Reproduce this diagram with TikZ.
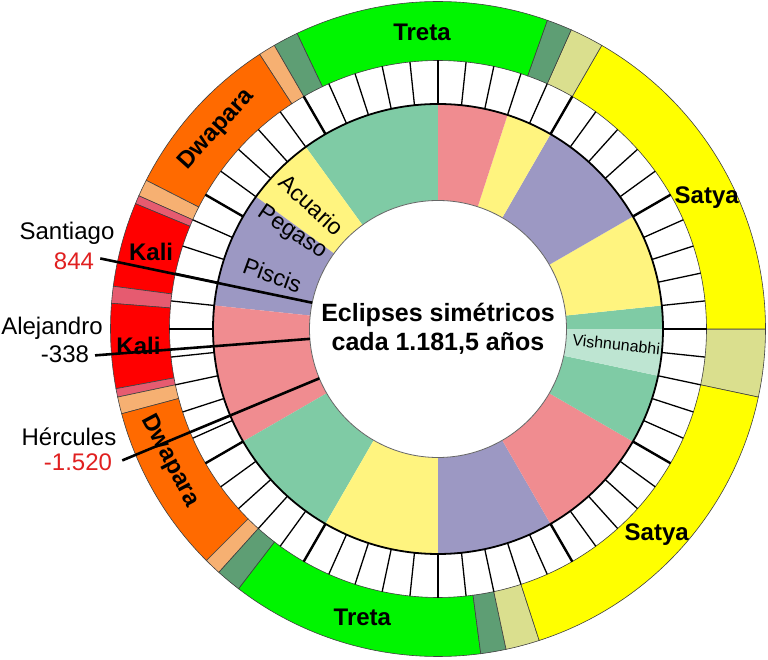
\documentclass[tikz,border=0pt]{standalone}
\usepackage{fontspec}
\setmainfont{Liberation Sans}
\definecolor{cSatya}{HTML}{FFFF00}
\definecolor{cSatS}{HTML}{DADF8E}
\definecolor{cTretaS}{HTML}{5E9E74}
\definecolor{cTreta}{HTML}{00F500}
\definecolor{cDwaS}{HTML}{F6B072}
\definecolor{cDwa}{HTML}{FF6A00}
\definecolor{cKaliS}{HTML}{E65B70}
\definecolor{cKali}{HTML}{FF0000}
\definecolor{zGreen}{HTML}{7FCBA5}
\definecolor{zPink}{HTML}{F08C90}
\definecolor{zYellow}{HTML}{FFF47F}
\definecolor{zPurple}{HTML}{9C98C3}
\definecolor{zLight}{HTML}{BEE5D2}
\definecolor{numRed}{HTML}{E02020}
\newcommand{\annsec}[5]{%
  \path[#1] (#2:#4pt) arc[start angle=#2, end angle=#3, radius=#4pt] -- (#3:#5pt) arc[start angle=#3, end angle=#2, radius=#5pt] -- cycle;}
\begin{document}
\begin{tikzpicture}[x=1pt,y=1pt,
  yuga/.style={fill=#1, draw=black!75, line width=0.6pt},
  zod/.style={fill=#1},
  smalltick/.style={draw=black, line width=1.3pt},
  bigtick/.style={draw=black, line width=2.4pt},
  marker/.style={draw=black, line width=2.6pt},
  yugalbl/.style={font=\fontsize{24}{28}\selectfont\bfseries, inner sep=0pt},
  zodlbl/.style={font=\fontsize{23}{27}\selectfont, inner sep=0pt},
  namelbl/.style={font=\fontsize{24}{28}\selectfont, inner sep=0pt},
  centerlbl/.style={font=\fontsize{25}{30}\selectfont\bfseries, inner sep=0pt}]
\useasboundingbox (-438,-331) rectangle (330,329);
% ---- yuga ring ----
\annsec{yuga=cSatS}{-12}{0}{268.5}{327.5}
\annsec{yuga=cSatya}{0}{60}{268.5}{327.5}
\annsec{yuga=cSatS}{60}{66}{268.5}{327.5}
\annsec{yuga=cTretaS}{66}{70.5}{268.5}{327.5}
\annsec{yuga=cTreta}{70.5}{115.5}{268.5}{327.5}
\annsec{yuga=cTretaS}{115.5}{120}{268.5}{327.5}
\annsec{yuga=cDwaS}{120}{123}{268.5}{327.5}
\annsec{yuga=cDwa}{123}{153}{268.5}{327.5}
\annsec{yuga=cDwaS}{153}{156}{268.5}{327.5}
\annsec{yuga=cKaliS}{156}{157.5}{268.5}{327.5}
\annsec{yuga=cKali}{157.5}{172.5}{268.5}{327.5}
\annsec{yuga=cKaliS}{172.5}{175.5}{268.5}{327.5}
\annsec{yuga=cKali}{175.5}{190.5}{268.5}{327.5}
\annsec{yuga=cKaliS}{190.5}{192}{268.5}{327.5}
\annsec{yuga=cDwaS}{192}{195}{268.5}{327.5}
\annsec{yuga=cDwa}{195}{225}{268.5}{327.5}
\annsec{yuga=cDwaS}{225}{228}{268.5}{327.5}
\annsec{yuga=cTretaS}{228}{232.5}{268.5}{327.5}
\annsec{yuga=cTreta}{232.5}{277.5}{268.5}{327.5}
\annsec{yuga=cTretaS}{277.5}{282}{268.5}{327.5}
\annsec{yuga=cSatS}{282}{288}{268.5}{327.5}
\annsec{yuga=cSatya}{288}{348}{268.5}{327.5}
% ---- zodiac ring ----
\annsec{zod=zGreen}{90}{126}{128.5}{225}
\annsec{zod=zYellow}{126}{144}{128.5}{225}
\annsec{zod=zPurple}{144}{174}{128.5}{225}
\annsec{zod=zPink}{174}{210}{128.5}{225}
\annsec{zod=zGreen}{210}{240}{128.5}{225}
\annsec{zod=zYellow}{240}{270}{128.5}{225}
\annsec{zod=zPurple}{270}{300}{128.5}{225}
\annsec{zod=zPink}{300}{330}{128.5}{225}
\annsec{zod=zGreen}{330}{348}{128.5}{225}
\annsec{zod=zLight}{348}{360}{128.5}{225}
\annsec{zod=zGreen}{0}{6}{128.5}{225}
\annsec{zod=zYellow}{6}{30}{128.5}{225}
\annsec{zod=zPurple}{30}{60}{128.5}{225}
\annsec{zod=zYellow}{60}{72}{128.5}{225}
\annsec{zod=zPink}{72}{90}{128.5}{225}
\draw[black!60, line width=0.8pt, fill=white] (0,0) circle[radius=128.5pt];
\draw[black, line width=1.8pt] (0,0) circle[radius=225pt];
% ---- ticks ----
\foreach \a in {0,6,...,354} {\path[smalltick] (\a:225pt) -- (\a:268.5pt);}
\foreach \a in {0,30,...,330} {\path[bigtick] (\a:225pt) -- (\a:268.5pt);}
% ---- yuga labels ----
\node (tretaT) [yugalbl] at (93.1:297) {Treta};
\node (tretaB) [yugalbl] at (255.3:298) {Treta};
\node (satyaT) [yugalbl] at (26:299) {Satya};
\node (satyaB) [yugalbl] at (-43.2:300) {Satya};
\node (kaliU) [yugalbl] at (165:297) {Kali};
\node (kaliL) [yugalbl] at (183.2:300) {Kali};
\node (dwaU) [yugalbl, rotate=48] at (138:298) {Dwapara};
\node (dwaL) [yugalbl, rotate=-62] at (206.2:299) {Dwapara};
% ---- zodiac labels ----
\node (acu) [zodlbl, rotate=-42] at (135.5:177) {Acuario};
\node (peg) [zodlbl, rotate=-34] at (146.6:175) {Pegaso};
\node (pis) [zodlbl, rotate=-20] at (162:174) {Piscis};
\node (vis) [font=\fontsize{16}{19}\selectfont, inner sep=0pt, rotate=-6] at (-5:179) {Vishnunabhi};
% ---- center ----
\node (c1) [centerlbl] at (0,14) {Eclipses simétricos};
\node (c2) [centerlbl] at (0,-14) {cada 1.181,5 años};
% ---- markers ----
\coordinate (sIn) at (168.2:128.5);
\coordinate (sOut) at (168.2:345);
\coordinate (aIn) at (184.4:128.5);
\coordinate (aOut) at (184.4:344);
\coordinate (hIn) at (202.6:128.5);
\coordinate (hOut) at (202.6:342);
\path[marker] (sIn) -- (sOut);
\path[marker] (aIn) -- (aOut);
\path[marker] (hIn) -- (hOut);
\node (santiago) [namelbl] at (-371,96) {Santiago};
\node (y844) [namelbl, text=numRed] at (-364,68) {844};
\node (alejandro) [namelbl] at (-386,1) {Alejandro};
\node (y338) [namelbl] at (-373,-25) {-338};
\node (hercules) [namelbl] at (-369,-108) {Hércules};
\node (y1520) [namelbl, text=numRed] at (-360,-133) {-1.520};
\end{tikzpicture}
\end{document}
